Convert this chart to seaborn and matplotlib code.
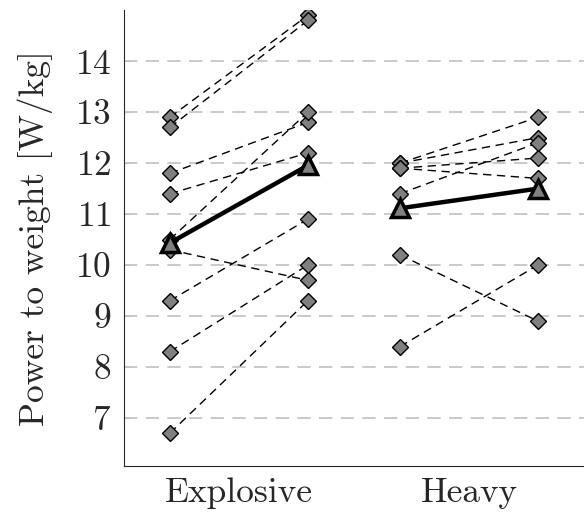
import numpy as np
import matplotlib
matplotlib.use("Agg")
import matplotlib.pyplot as plt
import pandas as pd
import seaborn as sns

sns.set_style("ticks")
plt.rcParams.update({'font.family': 'serif', 'font.serif': ['cmr10'],
                     'mathtext.fontset': 'cm', 'axes.formatter.use_mathtext': True,
                     'font.size': 25.5})

groups = ["Explosive", "Heavy"]
explosive_pre = [12.9, 12.7, 11.8, 11.4, 10.5, 10.3, 9.3, 8.3, 6.7]
explosive_post = [14.9, 14.8, 12.8, 12.2, 13.0, 9.7, 10.9, 10.0, 9.3]
heavy_pre = [12.0, 12.0, 11.9, 11.9, 11.4, 10.2, 8.4]
heavy_post = [12.9, 12.5, 12.1, 11.7, 12.4, 8.9, 10.0]

rows = []
for g, (pre, post) in enumerate([(explosive_pre, explosive_post), (heavy_pre, heavy_post)]):
    for i, (a, b) in enumerate(zip(pre, post)):
        rows.append([groups[g], f"{g}_{i}", g - 0.3, a])
        rows.append([groups[g], f"{g}_{i}", g + 0.3, b])
df = pd.DataFrame(rows, columns=["group", "subject", "pos", "value"])
means = df.groupby(["group", "pos"], as_index=False)["value"].mean()

fig = plt.figure(figsize=(5.84, 5.13), dpi=100)
ax = fig.add_axes([0.212, 0.092, 0.788, 0.888])

sns.lineplot(data=df, x="pos", y="value", units="subject", estimator=None,
             color="k", lw=1.0, dashes=False, ax=ax, linestyle=(0, (6, 4)),
             marker="D", markersize=8.5, markerfacecolor="grey",
             markeredgecolor="k", markeredgewidth=1.0, zorder=3)
sns.lineplot(data=means, x="pos", y="value", units="group", estimator=None,
             color="k", lw=3.2, ax=ax, marker="^", markersize=13,
             markerfacecolor="grey", markeredgecolor="k", markeredgewidth=2.5,
             zorder=4)

ax.set_yticks(range(7, 15))
for t in range(7, 15):
    ax.axhline(t, color="#c0c0c0", lw=1.2, linestyle=(0, (8, 5)), zorder=0)
ax.set_xticks([0, 1])
ax.set_xticklabels(groups)
ax.set_xlim(-0.5, 1.5)
ax.set_ylim(6.06, 15.0)
ax.set_xlabel("")
ax.set_ylabel("Power to weight [W/kg]", labelpad=16)
ax.tick_params(axis="x", length=0, pad=8)
ax.tick_params(axis="y", length=4, color="#c0c0c0", direction="in", pad=9)
sns.despine(ax=ax)
fig.savefig("out.png", dpi=100)
